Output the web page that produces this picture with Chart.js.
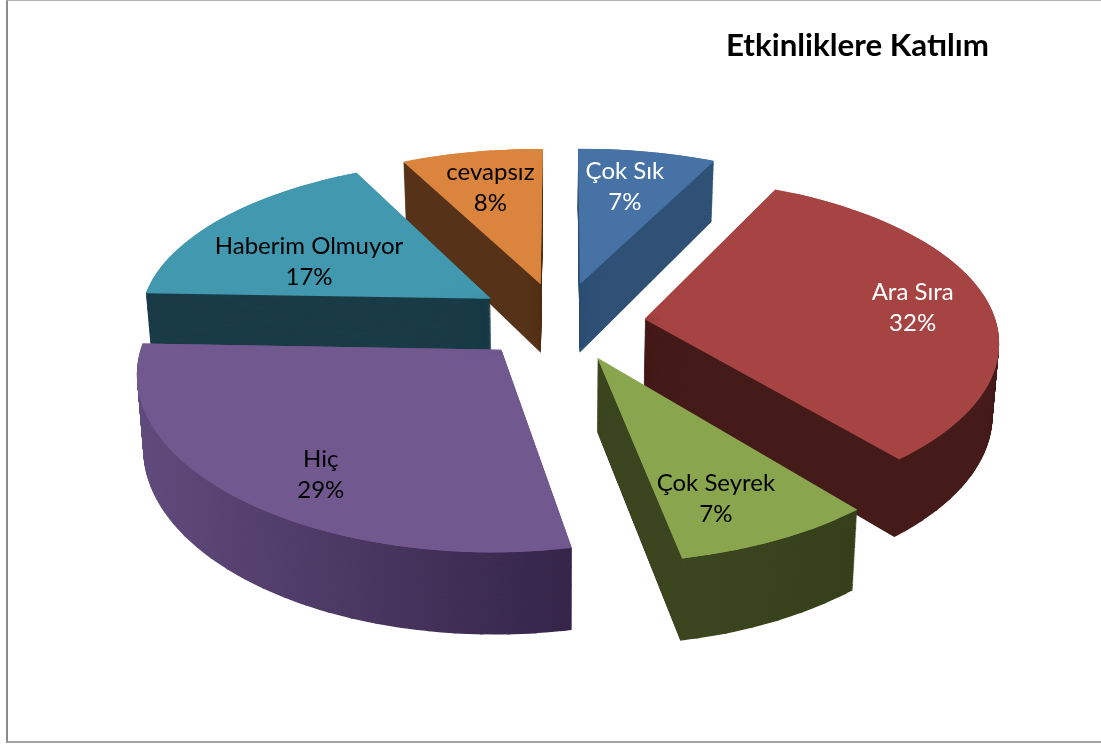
<!DOCTYPE html>
<html lang="tr">
<head>
<meta charset="utf-8">
<title>Etkinliklere Katılım</title>
<script src="https://cdn.jsdelivr.net/npm/chart.js"></script>
<style>
html,body{margin:0;padding:0;background:#fff;overflow:hidden}
#wrap{position:relative;width:1101px;height:744px}
#frame{position:absolute;left:6px;top:0;right:-4px;height:743px;border-left:2px solid #8c8c8c;border-bottom:2px solid #a3a3a3;border-top:1px solid #b0b0b0;box-sizing:border-box}
canvas{position:absolute;left:0;top:0}
</style>
</head>
<body>
<div id="wrap"><div id="frame"></div><canvas id="c" width="1101" height="744"></canvas></div>
<script>
const titleText = 'Etkinliklere Katılım';
const categories = ['Çok Sık', 'Ara Sıra', 'Çok Seyrek', 'Hiç', 'Haberim Olmuyor', 'cevapsız'];
const values = [7, 32, 7, 29, 17, 8];
const topColors = ['#4672A6', '#A64443', '#89A54E', '#71588F', '#4198AF', '#DB843D'];
const wallLeft = ['#2F5175', '#451C1A', '#3C4620', '#624C7E', '#1A3C47', '#563318'];
const wallRight = ['#2F5175', '#451C1A', '#37411C', '#37264A', '#1A3C47', '#563318'];
const labelColors = ['#fff', '#fff', '#000', '#000', '#000', '#000'];
const labelReach = [0.65, 0.75, 0.70, 0.80, 0.55, 0.65];
const labelNudgeX = [1, 11, -10, 16, -25, 0];
const labelNudgeY = [-7, 4, 21, 4, 6, -7];
const explodeBy = [0.24, 0.24, 0.27, 0.26, 0.235, 0.24];
// Small corrections for the original's 3D projection
const sliceShiftX = [1, 0, -8, -2, 0, 0];
const sliceShiftY = [4, 7, 0, -2, 1, 4];
const edgeWarpDeg = [0, 0.8, 0, 3.4, 2, 2.1, 0];

const view = {cx: 561, cy: 317, X: 352, Y: 163.7, p: 0.14, q: 0.12, D: 71, r: 0.13, shrink: 0.015};

function project(x, y, z) {
  const sx = view.X * x / (1 - view.q * y) * (1 - view.shrink * z);
  const sy = view.Y * y / (1 - view.p * y) + view.D * z * (1 + view.r * y);
  return [view.cx + sx, view.cy + sy];
}
function hex(c) { return [1, 3, 5].map(i => parseInt(c.substr(i, 2), 16)); }
function mix(a, b, t) {
  t = Math.max(0, Math.min(1, t));
  const A = hex(a), B = hex(b);
  return 'rgb(' + A.map((v, i) => Math.round(v + (B[i] - v) * t)).join(',') + ')';
}
const STEP = 4 * Math.PI / 180, OVER = 0.5 * Math.PI / 180;

function warp(arc, i, a) {
  const span = arc.endAngle - arc.startAngle;
  const t = (a - arc.startAngle) / span;
  return a + (edgeWarpDeg[i] + (edgeWarpDeg[i + 1] - edgeWarpDeg[i]) * t) * Math.PI / 180;
}
function drawWedge(ctx, arc, i, a0, a1, z, fill, E, base) {
  const s = {start: arc.startAngle, end: arc.endAngle, circ: arc.circumference, opt: arc.options};
  const w0 = warp(base, i, a0), w1 = warp(base, i, a1);
  const sh = p => [p[0] + sliceShiftX[i], p[1] + sliceShiftY[i]];
  const A = sh(project(E[0], E[1], z));
  const B = sh(project(E[0] + Math.cos(w0), E[1] + Math.sin(w0), z));
  const C = sh(project(E[0] + Math.cos(w1), E[1] + Math.sin(w1), z));
  const R = arc.outerRadius;
  const ux = R * Math.cos(a0), uy = R * Math.sin(a0), vx = R * Math.cos(a1), vy = R * Math.sin(a1);
  const det = ux * vy - uy * vx;
  const Ux = B[0] - A[0], Uy = B[1] - A[1], Vx = C[0] - A[0], Vy = C[1] - A[1];
  const m11 = (Ux * vy - Vx * uy) / det, m21 = (Vx * ux - Ux * vx) / det;
  const m12 = (Uy * vy - Vy * uy) / det, m22 = (Vy * ux - Uy * vx) / det;
  const e = A[0] - m11 * arc.x - m21 * arc.y, f = A[1] - m12 * arc.x - m22 * arc.y;
  ctx.save();
  ctx.transform(m11, m12, m21, m22, e, f);
  arc.startAngle = a0; arc.endAngle = a1; arc.circumference = a1 - a0;
  arc.options = {backgroundColor: fill, borderColor: fill, borderWidth: 0, borderAlign: 'center',
    offset: 0, spacing: 0, circular: true, borderRadius: 0, borderJoinStyle: 'round', selfJoin: false};
  arc.draw(ctx);
  arc.startAngle = s.start; arc.endAngle = s.end; arc.circumference = s.circ; arc.options = s.opt;
  ctx.restore();
}
// Narrow pieces of one slice; phase moves the seams so they do not line up between layers
function sliceWedges(arc, over, phase) {
  const out = [], n = Math.ceil((arc.endAngle - arc.startAngle) / STEP);
  const w = (arc.endAngle - arc.startAngle) / n;
  let a0 = arc.startAngle;
  let next = arc.startAngle + w * (phase > 0 ? phase : 1);
  while (a0 < arc.endAngle - 1e-6) {
    out.push([a0, Math.min(arc.endAngle, next + over), next]);
    a0 = next;
    next = a0 + w;
  }
  return out;
}
function explosion(arc, i) {
  const m = (arc.startAngle + arc.endAngle) / 2;
  return [Math.cos(m) * explodeBy[i], Math.sin(m) * explodeBy[i]];
}

const tiltedPie = {
  id: 'tiltedPie',
  beforeDatasetsDraw(chart) {
    const ctx = chart.ctx, arcs = chart.getDatasetMeta(0).data;
    const order = arcs.map((a, i) => i).sort((i, j) =>
      Math.sin((arcs[i].startAngle + arcs[i].endAngle) / 2) - Math.sin((arcs[j].startAngle + arcs[j].endAngle) / 2));
    for (const i of order) {
      const arc = arcs[i], E = explosion(arc, i);
      const base = {startAngle: arc.startAngle, endAngle: arc.endAngle};
      const rimX = w => project(E[0] + Math.cos((w[0] + w[1]) / 2), E[1] + Math.sin((w[0] + w[1]) / 2), 1)[0];
      const xs = sliceWedges(arc, 0, 1).map(rimX);
      const lo = Math.min(...xs), hi = Math.max(...xs);
      for (let layer = 90; layer > 0; layer--) {
        const z = layer / 90;
        sliceWedges(arc, OVER, ((layer * 0.381) % 1) || 1).forEach(w =>
          drawWedge(ctx, arc, i, w[0], w[1], z, mix(wallLeft[i], wallRight[i], (rimX(w) - lo) / (hi - lo || 1)), E, base));
      }
      sliceWedges(arc, STEP, 1).forEach(w => drawWedge(ctx, arc, i, w[0], w[1], 0, topColors[i], E, base));
    }
    return false;
  },
  afterDraw(chart) {
    const ctx = chart.ctx, arcs = chart.getDatasetMeta(0).data;
    ctx.save();
    ctx.font = '24px Lato';
    ctx.textAlign = 'center';
    ctx.textBaseline = 'middle';
    arcs.forEach((arc, i) => {
      const E = explosion(arc, i), m = (arc.startAngle + arc.endAngle) / 2;
      const p = project(E[0] + Math.cos(m) * labelReach[i], E[1] + Math.sin(m) * labelReach[i], 0);
      const lx = p[0] + sliceShiftX[i] + labelNudgeX[i], ly = p[1] + sliceShiftY[i] + labelNudgeY[i];
      ctx.fillStyle = labelColors[i];
      ctx.fillText(categories[i], lx, ly - 15.5);
      ctx.fillText(values[i] + '%', lx, ly + 15.5);
    });
    ctx.restore();
  }
};

new Chart(document.getElementById('c'), {
  type: 'pie',
  data: {labels: categories, datasets: [{data: values, backgroundColor: topColors, borderWidth: 0}]},
  options: {
    responsive: false, animation: false, events: [],
    layout: {padding: {top: 27, right: 112}},
    plugins: {
      legend: {display: false}, tooltip: {enabled: false},
      title: {display: true, text: titleText, align: 'end', color: '#000',
        font: {family: 'Lato', size: 31.3, weight: 'bold'}, padding: 0}
    }
  },
  plugins: [tiltedPie]
});
</script>
</body>
</html>
